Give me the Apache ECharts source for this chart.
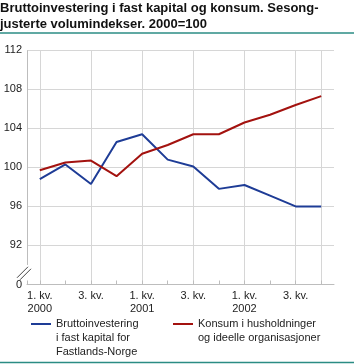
<!DOCTYPE html>
<html><head><meta charset="utf-8">
<script src="https://cdn.jsdelivr.net/npm/echarts@6/dist/echarts.min.js"></script>
<style>html,body{margin:0;padding:0;background:#fff}#c{width:354px;height:364px}</style>
</head><body><div id="c"></div>
<script>
const titleText = 'Bruttoinvestering i fast kapital og konsum. Sesong-\njusterte volumindekser. 2000=100';
const quarters = ['2000K1','2000K2','2000K3','2000K4','2001K1','2001K2','2001K3','2001K4','2002K1','2002K2','2002K3','2002K4'];
const tickLabels = ['1. kv.\n2000','','3. kv.','','1. kv.\n2001','','3. kv.','','1. kv.\n2002','','3. kv.',''];
const seriesNames = ['Bruttoinvestering\ni fast kapital for\nFastlands-Norge', 'Konsum i husholdninger\nog ideelle organisasjoner'];
const investering = [98.8, 100.3, 98.3, 102.6, 103.4, 100.8, 100.1, 97.8, 98.2, 97.1, 96.0, 96.0];
const konsum = [99.7, 100.5, 100.7, 99.1, 101.4, 102.3, 103.4, 103.4, 104.6, 105.4, 106.4, 107.3];
const yMin = 88, yMax = 112, yStep = 4;
const yBreakLabel = '0';

const FONT = 'Liberation Sans';
const BLUE = '#1e3c96', RED = '#a3120f', TEAL = '#2b8c84', GRID = '#d6d6d6';

const chart = echarts.init(document.getElementById('c'), null, {renderer: 'canvas'});
const legendIcon3 = 'path://M0,0h0.01v0.01h-0.01z M0,6h20v2h-20z M0,41.99h0.01v0.01h-0.01z';
const legendIcon2 = 'path://M0,0h0.01v0.01h-0.01z M0,6h20v2h-20z M0,27.99h0.01v0.01h-0.01z';
const legendText = {fontFamily: FONT, fontSize: 11, color: '#222', lineHeight: 14};

chart.setOption({
  animation: false,
  textStyle: {fontFamily: FONT},
  title: {text: titleText, left: 0, top: 0, padding: 0,
    textStyle: {fontFamily: FONT, fontSize: 13, fontWeight: 'bold', color: '#111', lineHeight: 16.5}},
  grid: {left: 27, right: 20, top: 50.3, bottom: 79.5, containLabel: false},
  legend: [
    {data: [seriesNames[0]], left: 31, top: 317, itemWidth: 20, itemHeight: 42, itemGap: 0, padding: 0,
      icon: legendIcon3, itemStyle: {borderWidth: 0}, textStyle: legendText, selectedMode: false},
    {data: [seriesNames[1]], left: 173, top: 317, itemWidth: 20, itemHeight: 28, itemGap: 0, padding: 0,
      icon: legendIcon2, itemStyle: {borderWidth: 0}, textStyle: legendText, selectedMode: false}
  ],
  xAxis: {
    type: 'category', data: quarters, boundaryGap: true,
    axisLine: {show: true, lineStyle: {color: '#bdbdbd', width: 1}},
    axisTick: {show: true, inside: true, length: 4, alignWithLabel: true, interval: 0, lineStyle: {color: '#bdbdbd'}},
    axisLabel: {interval: 0, margin: 5, fontFamily: FONT, fontSize: 11, color: '#222', lineHeight: 13,
      formatter: (v, i) => tickLabels[i]},
    splitLine: {show: true, interval: 1, alignWithLabel: true, lineStyle: {color: GRID, width: 1}}
  },
  yAxis: {
    type: 'value', min: yMin, max: yMax, interval: yStep,
    axisLine: {show: false}, axisTick: {show: false},
    axisLabel: {margin: 5, fontFamily: FONT, fontSize: 11, color: '#222',
      formatter: v => (v === yMin ? yBreakLabel : String(v))},
    splitLine: {show: true, lineStyle: {color: GRID, width: 1}}
  },
  series: [
    {name: seriesNames[0], type: 'line', data: investering, symbol: 'none', color: BLUE,
      lineStyle: {color: BLUE, width: 2}},
    {name: seriesNames[1], type: 'line', data: konsum, symbol: 'none', color: RED,
      lineStyle: {color: RED, width: 2}}
  ]
});

// decorations: axis line with break marker, teal rules
const yTop = chart.convertToPixel({yAxisIndex: 0}, yMax);
const y92 = chart.convertToPixel({yAxisIndex: 0}, yMin + yStep);
const yBot = chart.convertToPixel({yAxisIndex: 0}, yMin);
const x0 = 27;
const gap = yBot - y92;
const c = y92 + gap * 0.7;
chart.setOption({
  graphic: [
    {type: 'line', shape: {x1: 0, y1: 33, x2: 354, y2: 33}, style: {stroke: TEAL, lineWidth: 1.5}, silent: true},
    {type: 'line', shape: {x1: 0, y1: 362.5, x2: 354, y2: 362.5}, style: {stroke: TEAL, lineWidth: 1.5}, silent: true},
    {type: 'line', shape: {x1: x0 + 0.5, y1: yTop, x2: x0 + 0.5, y2: y92 + gap * 0.5}, style: {stroke: '#bdbdbd', lineWidth: 1}, silent: true},
    {type: 'line', shape: {x1: x0 + 0.5, y1: yBot - 4, x2: x0 + 0.5, y2: yBot}, style: {stroke: '#bdbdbd', lineWidth: 1}, silent: true},
    {type: 'line', shape: {x1: x0 - 10, y1: c + 5, x2: x0 + 1, y2: c - 6}, style: {stroke: '#444', lineWidth: 1}, silent: true},
    {type: 'line', shape: {x1: x0 - 7, y1: c + 7, x2: x0 + 4, y2: c - 4}, style: {stroke: '#444', lineWidth: 1}, silent: true}
  ]
});
</script></body></html>
